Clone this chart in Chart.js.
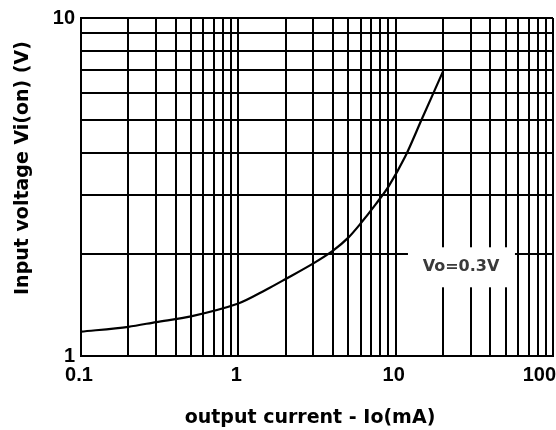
<!DOCTYPE html>
<html>
<head>
<meta charset="utf-8">
<script src="https://cdn.jsdelivr.net/npm/chart.js@4.4.1/dist/chart.umd.min.js"></script>
<style>
    html, body { margin: 0; padding: 0; background: #fff; }
    #wrap { width: 556px; height: 430px; }
</style>
</head>
<body>
<div id="wrap"><canvas id="ioChart"></canvas></div>
<script>
// values (Vo = 0.3V)
const outputCurrent = [0.1, 0.2, 0.3, 0.5, 1, 1.5, 2, 3, 4, 5, 6, 7.5, 9, 11.5, 14.6, 20];
const inputVoltage  = [1.18, 1.22, 1.26, 1.31, 1.43, 1.57, 1.69, 1.88, 2.05, 2.24, 2.47, 2.82, 3.17, 3.89, 5.0, 6.95];

// grid lines of the log paper
const xGrid = [0.1, 0.2, 0.3, 0.4, 0.5, 0.6, 0.7, 0.8, 0.9,
               1, 2, 3, 4, 5, 6, 7, 8, 9,
               10, 20, 30, 40, 50, 60, 70, 80, 90, 100];
const yGrid = [1, 2, 3, 4, 5, 6, 7, 8, 9, 10];
const xLabels = [0.1, 1, 10];   // 100 sits on the right edge, drawn by the plugin
const xLastLabel = 100;
const yLabels = [1, 10];

const curveLabel = 'Vo=0.3V';
const curveLabelAt = { x: 26, y: 1.83 };
const xTitle = 'output current - Io(mA)';
const yTitle = 'Input voltage Vi(on) (V)';

const TITLE_FONT = '"DejaVu Sans", sans-serif';
const TICK_FONT = '"Liberation Sans", Arial, sans-serif';

// axis titles, curve label and the clipped "100"
const textPlugin = {
    id: 'textPlugin',
    afterDatasetsDraw(chart) {
        const ctx = chart.ctx;
        const xs = chart.scales.x;
        const ys = chart.scales.y;
        ctx.save();

        // label box over the grid
        const lx = xs.getPixelForValue(curveLabelAt.x);
        const ly = ys.getPixelForValue(curveLabelAt.y);
        ctx.fillStyle = '#fff';
        ctx.fillRect(lx - 53, ly - 20, 107, 40);
        ctx.font = 'bold 16px ' + TITLE_FONT;
        ctx.fillStyle = '#3a3a3a';
        ctx.textAlign = 'center';
        ctx.textBaseline = 'middle';
        ctx.fillText(curveLabel, lx, ly);

        // last x tick label, kept inside the canvas
        ctx.fillStyle = '#000';
        ctx.font = 'bold 20px ' + TICK_FONT;
        ctx.textAlign = 'right';
        ctx.fillText(String(xLastLabel), xs.getPixelForValue(xLastLabel) + 3, xs.top + 19);

        // x title
        ctx.textAlign = 'center';
        ctx.font = 'bold 19px ' + TITLE_FONT;
        ctx.textBaseline = 'alphabetic';
        ctx.fillText(xTitle, 310, 423);

        // y title
        ctx.translate(28, 168);
        ctx.rotate(-Math.PI / 2);
        ctx.fillText(yTitle, 0, 0);
        ctx.restore();
    }
};

const ctx = document.getElementById('ioChart').getContext('2d');
new Chart(ctx, {
    type: 'line',
    data: {
        datasets: [{
            label: curveLabel,
            data: outputCurrent.map((c, i) => ({ x: c, y: inputVoltage[i] })),
            borderColor: '#000',
            borderWidth: 2.2,
            pointRadius: 0,
            fill: false,
            tension: 0.3
        }]
    },
    options: {
        responsive: true,
        maintainAspectRatio: false,
        animation: false,
        layout: { padding: { top: 18, right: 3, left: 0, bottom: 0 } },
        plugins: {
            legend: { display: false },
            tooltip: { enabled: false }
        },
        scales: {
            x: {
                type: 'logarithmic',
                min: 0.1,
                max: 100,
                afterBuildTicks: scale => { scale.ticks = xGrid.map(v => ({ value: v })); },
                afterFit: scale => {
                    scale.height = 74;
                    scale.paddingLeft = 0;
                    scale.paddingRight = 0;
                },
                ticks: {
                    autoSkip: false,
                    maxRotation: 0,
                    padding: 7,
                    labelOffset: -2,
                    color: '#000',
                    font: { family: TICK_FONT, size: 20, weight: 'bold' },
                    callback: v => xLabels.includes(v) ? String(v) : ''
                },
                grid: { color: '#000', lineWidth: 2, drawTicks: false },
                border: { color: '#000', width: 2 }
            },
            y: {
                type: 'logarithmic',
                min: 1,
                max: 10,
                afterBuildTicks: scale => { scale.ticks = yGrid.map(v => ({ value: v })); },
                afterFit: scale => {
                    scale.width = 81;
                    scale.paddingTop = 0;
                    scale.paddingBottom = 0;
                },
                ticks: {
                    autoSkip: false,
                    padding: 6,
                    color: '#000',
                    font: { family: TICK_FONT, size: 20, weight: 'bold' },
                    callback: v => yLabels.includes(v) ? String(v) : ''
                },
                grid: { color: '#000', lineWidth: 2, drawTicks: false },
                border: { color: '#000', width: 2 }
            }
        }
    },
    plugins: [textPlugin]
});
</script>
</body>
</html>
